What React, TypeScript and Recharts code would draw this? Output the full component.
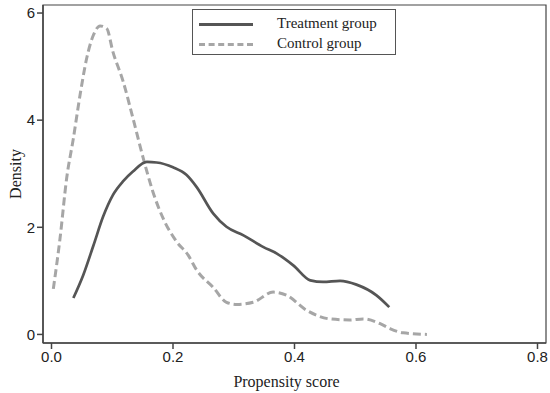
import React from 'react';
import { LineChart, Line, XAxis, YAxis, ReferenceArea } from 'recharts';

// Kernel density estimates
const treatmentX = [0.036, 0.052, 0.069, 0.085, 0.101, 0.118, 0.134, 0.157, 0.173, 0.2, 0.222, 0.239, 0.266, 0.288, 0.316, 0.349, 0.371, 0.398, 0.426, 0.447, 0.475, 0.502, 0.535, 0.556];
const treatmentY = [0.68, 1.1, 1.66, 2.2, 2.6, 2.86, 3.04, 3.22, 3.21, 3.12, 2.98, 2.75, 2.26, 2.01, 1.85, 1.63, 1.51, 1.29, 1.01, 0.98, 1.0, 0.93, 0.73, 0.51];

const controlX = [0.003, 0.014, 0.025, 0.036, 0.047, 0.058, 0.069, 0.08, 0.091, 0.101, 0.118, 0.134, 0.151, 0.167, 0.184, 0.206, 0.225, 0.239, 0.266, 0.288, 0.305, 0.332, 0.365, 0.387, 0.42, 0.458, 0.491, 0.513, 0.541, 0.557, 0.579, 0.618];
const controlY = [0.85, 1.79, 2.92, 3.66, 4.47, 5.16, 5.59, 5.76, 5.71, 5.28, 4.72, 4.04, 3.29, 2.66, 2.16, 1.73, 1.48, 1.2, 0.88, 0.6, 0.56, 0.6, 0.79, 0.73, 0.45, 0.29, 0.27, 0.29, 0.2, 0.11, 0.03, 0.0];

const xTicks = [0, 0.2, 0.4, 0.6, 0.8];
const yTicks = [0, 2, 4, 6];
const xDomain = [-0.014, 0.814];
const yDomain = [-0.16, 6.15];

const treatment = treatmentX.map((x, i) => ({ x, y: treatmentY[i] }));
const control = controlX.map((x, i) => ({ x, y: controlY[i] }));

const axisColor = '#444';
const tickStyle = { fontFamily: '"Liberation Sans", Arial, sans-serif', fontSize: 15, fill: '#222' };
const serif = '"Liberation Serif", "Times New Roman", serif';

export default function App() {
  return (
    <div style={{ position: 'absolute', left: 0, top: 0, width: 550, height: 393, background: '#fff' }}>
      <LineChart width={550} height={393} margin={{ top: 5, right: 4, bottom: 0, left: 0 }}>
        <XAxis
          xAxisId="b"
          type="number"
          dataKey="x"
          domain={xDomain}
          allowDataOverflow
          ticks={xTicks}
          tickFormatter={(v: number) => v.toFixed(1)}
          height={50}
          stroke={axisColor}
          strokeWidth={1.5}
          tickSize={6}
          tick={tickStyle}
          label={{ value: 'Propensity score', position: 'insideBottom', offset: 6, dx: -8, style: { fontFamily: serif, fontSize: 16, fill: '#222' } }}
        />
        <YAxis
          yAxisId="l"
          type="number"
          domain={yDomain}
          allowDataOverflow
          ticks={yTicks}
          width={43}
          stroke={axisColor}
          strokeWidth={1.5}
          tickSize={6}
          tick={tickStyle}
          label={{ value: 'Density', angle: -90, position: 'insideLeft', offset: 15, style: { fontFamily: serif, fontSize: 16, fill: '#222', textAnchor: 'middle' } }}
        />
        <ReferenceArea
          xAxisId="b"
          yAxisId="l"
          x1={xDomain[0]}
          x2={xDomain[1]}
          y1={yDomain[0]}
          y2={yDomain[1]}
          fill="none"
          stroke={axisColor}
          strokeWidth={1.2}
          ifOverflow="visible"
        />
        <Line xAxisId="b" yAxisId="l" data={control} dataKey="y" type="monotone" stroke="#a6a6a6" strokeWidth={3} strokeDasharray="8 4" dot={false} isAnimationActive={false} />
        <Line xAxisId="b" yAxisId="l" data={treatment} dataKey="y" type="monotone" stroke="#555" strokeWidth={2.7} dot={false} isAnimationActive={false} />
      </LineChart>
      <div style={{ position: 'absolute', left: 192, top: 9, width: 204, height: 46, border: '1px solid #555', fontFamily: serif, fontSize: 15, color: '#222', boxSizing: 'border-box' }}>
        <div style={{ position: 'absolute', left: 6, top: 13, width: 54, height: 0, borderTop: '3px solid #555' }} />
        <div style={{ position: 'absolute', left: 84, top: 4, lineHeight: '18px' }}>Treatment group</div>
        <div style={{ position: 'absolute', left: 6, top: 33, width: 54, height: 0, borderTop: '3px dashed #a6a6a6' }} />
        <div style={{ position: 'absolute', left: 84, top: 24, lineHeight: '18px' }}>Control group</div>
      </div>
    </div>
  );
}
